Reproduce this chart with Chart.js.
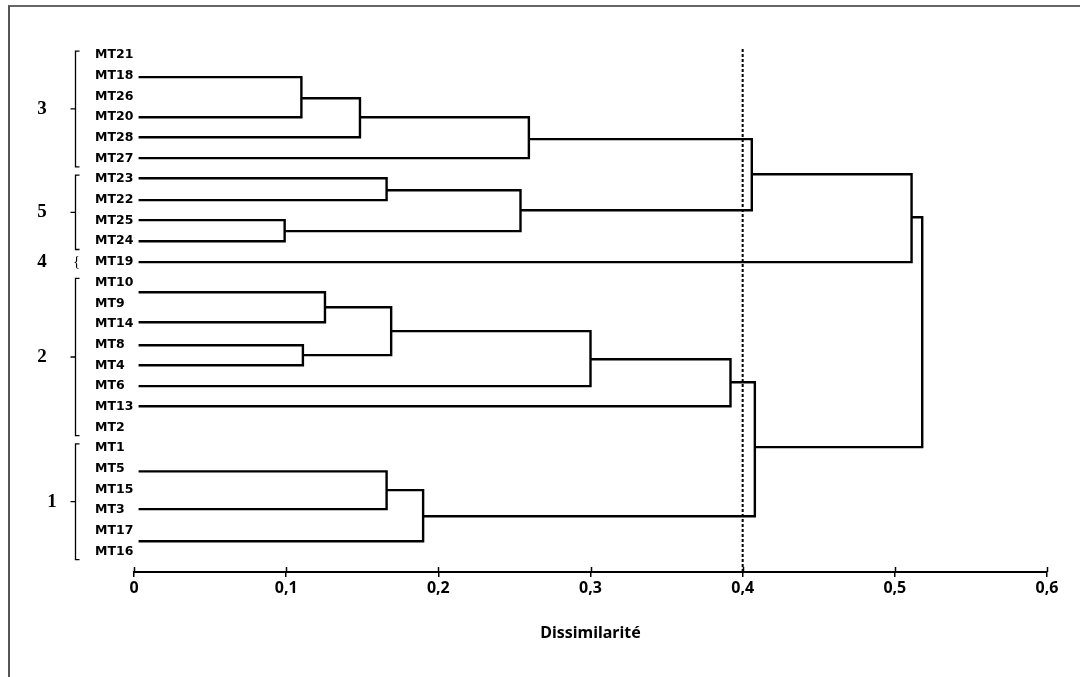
<!DOCTYPE html>
<html lang="fr">
  <head>
    <meta charset="UTF-8" />
    <title>dendrogramme</title>
    <script src="https://cdn.jsdelivr.net/npm/chart.js@4.4.1/dist/chart.umd.min.js"></script>
    <style>
      body { margin: 0; background: #fff; }
      .wrap { position: relative; width: 1080px; height: 677px; }
      .frame {
        position: absolute; left: 8px; top: 5px; right: 0; bottom: 0;
        border-top: 2px solid #666; border-left: 2px solid #555;
        pointer-events: none;
      }
    </style>
  </head>
  <body>
    <div class="wrap">
      <canvas id="dendro"></canvas>
      <div class="frame"></div>
    </div>

    <script>
      // sample names, top to bottom
      const samples = ["MT21", "MT18", "MT26", "MT20", "MT28", "MT27", "MT23", "MT22", "MT25",
        "MT24", "MT19", "MT10", "MT9", "MT14", "MT8", "MT4", "MT6", "MT13", "MT2", "MT1",
        "MT5", "MT15", "MT3", "MT17", "MT16"];

      // row of each drawn leaf branch (the branches don't sit exactly on the labels in the original)
      const leafRows = [1.06, 3.0, 3.97, 4.98, 5.95, 7.01, 7.98, 9.0, 10.01,
        11.47, 12.92, 14.03, 15.0, 16.01, 16.98, 20.13, 21.96, 23.51];

      // merges: [node a, node b, dissimilarity, row of the outgoing branch]
      // nodes 0..17 are the leaves, merge k becomes node 18 + k
      const merges = [
        [0, 1, 0.110, 2.08],
        [18, 2, 0.1485, 3.0],
        [19, 3, 0.2595, 4.06],
        [4, 5, 0.166, 6.53],
        [6, 7, 0.099, 8.51],
        [21, 22, 0.254, 7.5],
        [20, 23, 0.406, 5.76],
        [24, 8, 0.511, 7.84],
        [9, 10, 0.1255, 12.19],
        [11, 12, 0.111, 14.51],
        [26, 27, 0.169, 13.35],
        [28, 13, 0.300, 14.71],
        [29, 14, 0.392, 15.82],
        [15, 16, 0.166, 21.04],
        [31, 17, 0.190, 22.30],
        [30, 32, 0.408, 18.96],
        [25, 33, 0.518, 0],
      ];

      const leafStart = 0.003;
      const cutLevel = 0.4;
      const xTicks = [0, 0.1, 0.2, 0.3, 0.4, 0.5, 0.6];

      // groups shown with brackets on the left
      const groupNames = ["3", "5", "4", "2", "1"];
      const groupFirst = [0, 6, 10, 11, 19];
      const groupLast = [5, 9, 10, 18, 24];

      const rowMin = -0.3;
      const rowMax = 25;

      //node positions
      const nodeX = leafRows.map(() => leafStart);
      const nodeY = leafRows.slice();
      merges.forEach((m) => {
        nodeX.push(m[2]);
        nodeY.push(m[3]);
      });

      const lineWidth = 2.4;
      const datasets = merges.map((m) => {
        const a = m[0], b = m[1], h = m[2];
        return {
          data: [
            { x: nodeX[a], y: nodeY[a] },
            { x: h, y: nodeY[a] },
            { x: h, y: nodeY[b] },
            { x: nodeX[b], y: nodeY[b] },
          ],
          showLine: true,
          borderColor: "#000",
          borderWidth: lineWidth,
          pointRadius: 0,
          tension: 0,
        };
      });

      // dashed cut line
      datasets.push({
        data: [{ x: cutLevel, y: rowMin }, { x: cutLevel, y: rowMax }],
        showLine: true,
        borderColor: "#000",
        borderWidth: 2,
        borderDash: [3, 2],
        pointRadius: 0,
      });

      const labelFont = "DejaVu Sans";

      const brackets = {
        id: "brackets",
        afterDraw(chart) {
          const c = chart.ctx;
          const y = chart.scales.y;
          const x = chart.scales.x;
          c.save();
          c.strokeStyle = "#000";
          c.fillStyle = "#000";
          c.lineWidth = 1.3;
          const bx = 75.5;
          groupNames.forEach((name, i) => {
            const top = y.getPixelForValue(groupFirst[i] - 0.2);
            const bot = y.getPixelForValue(groupLast[i] + 0.4);
            const mid = (top + bot) / 2;
            if (groupFirst[i] !== groupLast[i]) {
              c.beginPath();
              c.moveTo(bx + 4, top);
              c.lineTo(bx, top);
              c.lineTo(bx, bot);
              c.lineTo(bx + 4, bot);
              c.moveTo(bx, mid);
              c.lineTo(bx - 5, mid);
              c.stroke();
            } else {
              c.font = "14px 'Liberation Serif'";
              c.textAlign = "center";
              c.textBaseline = "middle";
              c.fillText("{", bx + 1, y.getPixelForValue(groupFirst[i]));
            }
            c.font = "bold 19px 'Liberation Serif'";
            c.textAlign = "center";
            c.textBaseline = "middle";
            const ny = groupFirst[i] === groupLast[i] ? y.getPixelForValue(groupFirst[i]) : mid;
            c.fillText(name, name === "1" ? 52 : 42, ny);
          });
          // upper half of the x tick marks
          c.lineWidth = 1.5;
          const ay = x.top;
          xTicks.forEach((v) => {
            const px = Math.round(x.getPixelForValue(v)) + 0.5;
            c.beginPath();
            c.moveTo(px, ay - 5);
            c.lineTo(px, ay);
            c.stroke();
          });
          c.restore();
        },
      };

      const config = {
        type: "scatter",
        data: { datasets: datasets },
        options: {
          responsive: true,
          maintainAspectRatio: false,
          animation: false,
          layout: {
            padding: { left: 95, right: 33, top: 49, bottom: 25 },
          },
          plugins: {
            legend: { display: false },
            tooltip: { enabled: false },
          },
          scales: {
            x: {
              type: "linear",
              min: 0,
              max: 0.6,
              afterBuildTicks: (scale) => {
                scale.ticks = xTicks.map((v) => ({ value: v }));
              },
              afterFit: (scale) => {
                scale.height = 80;
              },
              border: { display: true, color: "#000", width: 2 },
              grid: {
                display: true,
                drawOnChartArea: false,
                drawTicks: true,
                tickLength: 5,
                color: "#000",
                lineWidth: 1.5,
              },
              ticks: {
                padding: 2,
                color: "#000",
                font: { family: "Noto Sans", size: 16, weight: "bold" },
                callback: (v) => String(Math.round(v * 10) / 10).replace(".", ","),
              },
              title: {
                display: true,
                text: "Dissimilarité",
                color: "#000",
                font: { family: "Noto Sans", size: 16, weight: "bold" },
                padding: { top: 4, bottom: 9 },
              },
            },
            y: {
              type: "linear",
              reverse: true,
              min: rowMin,
              max: rowMax,
              afterBuildTicks: (scale) => {
                scale.ticks = samples.map((s, i) => ({ value: i }));
              },
              afterFit: (scale) => {
                scale.width = 39;
              },
              border: { display: false },
              grid: { display: false },
              ticks: {
                crossAlign: "far",
                autoSkip: false,
                color: "#000",
                font: { family: labelFont, size: 12.5, weight: "bold" },
                callback: (v) => samples[v] || "",
              },
            },
          },
        },
        plugins: [brackets],
      };

      const dendro = new Chart(document.getElementById("dendro"), config);
    </script>
  </body>
</html>
